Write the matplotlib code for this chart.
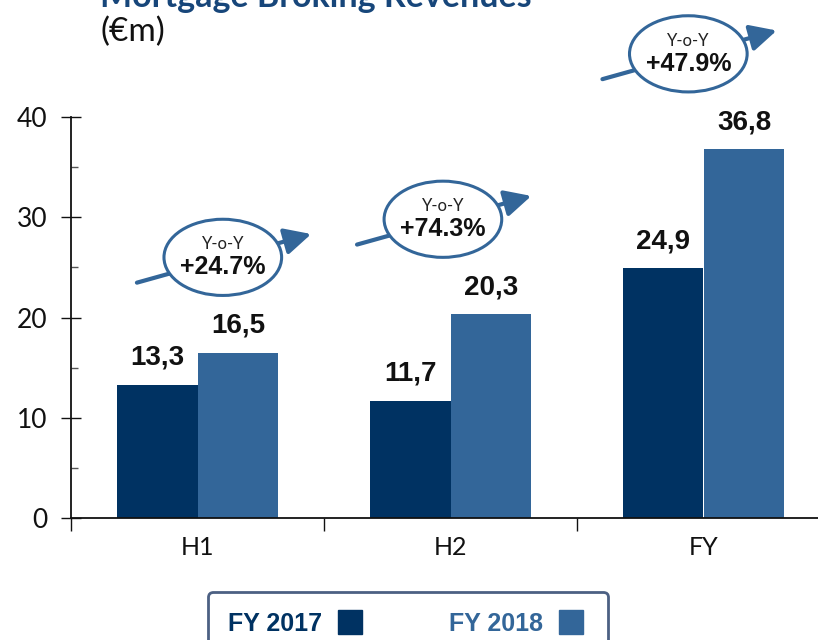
import matplotlib
matplotlib.use("Agg")
import matplotlib.pyplot as plt
from matplotlib.patches import Ellipse, FancyArrowPatch
from matplotlib.ticker import MultipleLocator

# Data
categories = ["H1", "H2", "FY"]
fy2017 = [13.3, 11.7, 24.9]
fy2018 = [16.5, 20.3, 36.8]
labels2017 = ["13,3", "11,7", "24,9"]
labels2018 = ["16,5", "20,3", "36,8"]
yoy = ["+24.7%", "+74.3%", "+47.9%"]

c17 = "#003262"
c18 = "#336699"

fig = plt.figure(figsize=(8.18, 6.40), dpi=100)
ax = fig.add_axes([71 / 818, 122 / 640, 759 / 818, 401 / 640])

x = list(range(len(categories)))
w = 0.32
ax.bar([i - w / 2 for i in x], fy2017, width=w, color=c17, label="FY 2017")
ax.bar([i + w / 2 for i in x], fy2018, width=w, color=c18, label="FY 2018")

lab_font = dict(family="Liberation Sans", weight="bold", size=20, color="#111111")
for i in x:
    ax.annotate(labels2017[i], (i - w / 2, fy2017[i]), xytext=(0, 10),
                textcoords="offset points", ha="center", va="bottom", **lab_font)
    ax.annotate(labels2018[i], (i + w / 2, fy2018[i]), xytext=(0, 10),
                textcoords="offset points", ha="center", va="bottom", **lab_font)

# Y-o-Y bubbles with arrows
x_shift = [0.1, -0.03, -0.06]
for i in x:
    cx = i + x_shift[i]
    cy = fy2018[i] + 9.5
    arr = FancyArrowPatch((cx - 0.35, cy - 2.6), (cx + 0.36, cy + 2.4),
                          arrowstyle="-|>,head_length=16,head_width=8",
                          color=c18, lw=3, clip_on=False, zorder=5)
    ax.add_patch(arr)
    ell = Ellipse((cx, cy), 0.465, 7.6, facecolor="white", edgecolor=c18,
                  lw=2.2, clip_on=False, zorder=6)
    ax.add_patch(ell)
    ax.text(cx, cy + 1.3, "Y-o-Y", ha="center", va="center", fontsize=12,
            family="Lato", color="#222222", zorder=7)
    ax.text(cx, cy - 1.0, yoy[i], ha="center", va="center", fontsize=18,
            family="Liberation Sans", weight="bold", color="#111111", zorder=7)

# Axes styling
ax.set_xlim(-0.5, 2.5)
ax.set_ylim(0, 40)
for s in ["top", "right"]:
    ax.spines[s].set_visible(False)
for s in ["left", "bottom"]:
    ax.spines[s].set_linewidth(1.3)
    ax.spines[s].set_color("#111111")

ax.yaxis.set_major_locator(MultipleLocator(10))
ax.yaxis.set_minor_locator(MultipleLocator(5))
ax.tick_params(axis="y", which="major", direction="inout", length=14, width=1,
               labelsize=19, pad=10, colors="#111111")
ax.tick_params(axis="y", which="minor", direction="in", length=5, width=1, color="#555555")
for t in ax.get_yticklabels():
    t.set_family("Lato")

ax.set_xticks([-0.5, 0.5, 1.5, 2.5])
ax.set_xticklabels([])
ax.set_xticks(x, minor=True)
ax.set_xticklabels(categories, minor=True)
ax.tick_params(axis="x", which="major", direction="out", length=9, width=1, color="#111111")
ax.tick_params(axis="x", which="minor", length=0, labelsize=18, pad=13, colors="#111111")
for t in ax.get_xticklabels(minor=True):
    t.set_family("Lato")

# Title
fig.text(100 / 818, 1 - 7 / 640, "Mortgage Broking Revenues", ha="left", va="baseline",
         fontsize=24.5, weight="bold", family="Lato", color="#17467a")
fig.text(100 / 818, 1 - 32 / 640, "(€m)", ha="left", va="center",
         fontsize=24, family="Lato", color="#111111")

# Legend (text first, marker after), box spans x 208..608 px
h17 = plt.Line2D([], [], marker="s", ls="none", markersize=17, color=c17)
h18 = plt.Line2D([], [], marker="s", ls="none", markersize=17, color=c18)
leg = fig.legend([h17, h18], ["FY 2017", "FY 2018"], loc="upper left",
                 bbox_to_anchor=(208 / 818, 1 - 592 / 640, 400 / 818, 0), mode="expand",
                 ncol=2, markerfirst=False,
                 prop=dict(family="Liberation Sans", weight="bold", size=18),
                 handlelength=1.4, handletextpad=0.4, columnspacing=2.6,
                 borderpad=0.8, borderaxespad=0, frameon=True, fancybox=True)
leg.get_frame().set_edgecolor("#1f3864")
leg.get_frame().set_linewidth(2)
leg.get_texts()[0].set_color(c17)
leg.get_texts()[1].set_color(c18)

fig.savefig("out.png", dpi=100)
